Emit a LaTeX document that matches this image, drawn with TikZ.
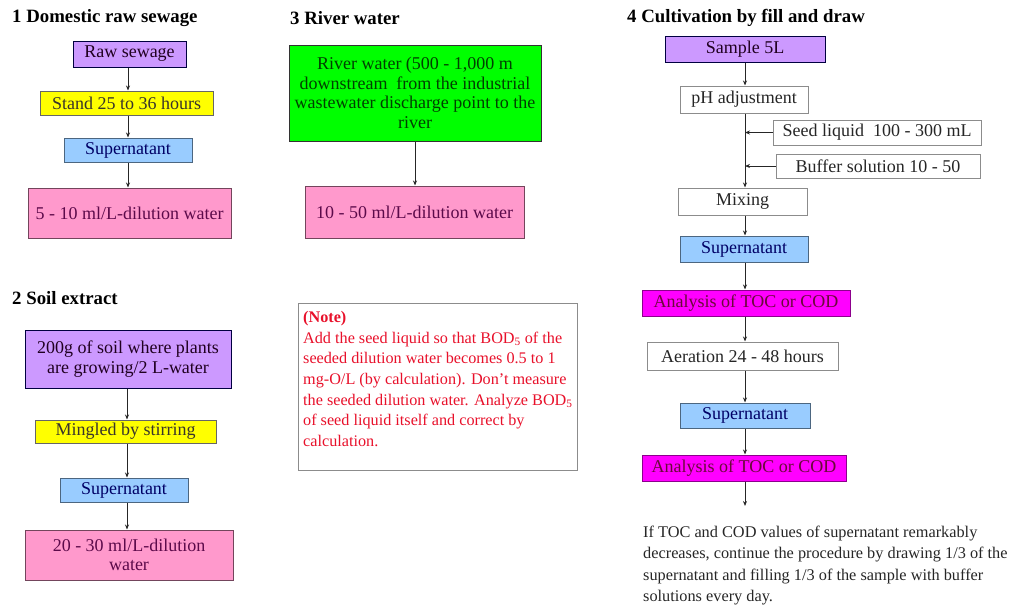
\documentclass[tikz,border=0pt]{standalone}
\usepackage{fontspec}
\setmainfont{Liberation Serif}
\usetikzlibrary{arrows.meta}
\definecolor{lav}{HTML}{CC99FF}
\definecolor{yel}{HTML}{FFFF00}
\definecolor{sky}{HTML}{99CCFF}
\definecolor{rose}{HTML}{FF99CC}
\definecolor{grn}{HTML}{00FF00}
\definecolor{mag}{HTML}{FF00FF}
\definecolor{notered}{HTML}{E8102A}
\definecolor{plum}{HTML}{5C0A4A}
\definecolor{maroon}{HTML}{6A0A3A}
\begin{document}
\begin{tikzpicture}[x=1pt,y=-1pt,
  base/.style={draw=#1, line width=1pt, inner sep=0pt, align=center,
    font=\fontsize{18}{19.5}\selectfont},
  purplebox/.style={base=black!75!blue, fill=lav, text=black!75!violet},
  yellowbox/.style={base=black!60, fill=yel, text=black!80!olive},
  bluebox/.style={base=black!50!sky, fill=sky, text=blue!40!black},
  pinkbox/.style={base=black!55!rose, fill=rose, text=plum},
  greenbox/.style={base=black!80, fill=grn, text=green!25!black},
  magbox/.style={base=black!45!mag, fill=mag, text=maroon},
  whitebox/.style={base=black!45, fill=white, text=black!85},
  title/.style={anchor=west, inner sep=0pt, font=\fontsize{18.8}{20}\selectfont\bfseries},
  arr/.style={-{Stealth[length=5pt,width=4pt]}, line width=0.9pt, black!85}]
\useasboundingbox (0,0) rectangle (1013,608);

% 1 Domestic raw sewage
\node[title] (t1) at (12,18) {1 Domestic raw sewage};
\node[purplebox, minimum width=113, minimum height=26] (raw1) at (129.5,54) {Raw sewage};
\node[yellowbox, minimum width=173, minimum height=24] (stand1) at (126.5,103) {Stand 25 to 36 hours};
\node[bluebox, minimum width=128, minimum height=24] (sup1) at (128,150) {Supernatant};
\node[pinkbox, minimum width=203, minimum height=50] (dil1) at (129.5,213) {5 - 10 ml/L-dilution water};
\coordinate (c1) at (128,0);
\draw[arr] (raw1.south -| c1) -- (stand1.north -| c1);
\draw[arr] (stand1.south -| c1) -- (sup1.north -| c1);
\draw[arr] (sup1.south -| c1) -- (dil1.north -| c1);

% 2 Soil extract
\node[title] (t2) at (12,298) {2 Soil extract};
\node[purplebox, minimum width=206, minimum height=58] (soil2) at (128,359) {200g of soil where plants\\are growing/2 L-water};
\node[yellowbox, minimum width=181, minimum height=23] (mingle2) at (125.5,431.5) {Mingled by stirring};
\node[bluebox, minimum width=128, minimum height=24] (sup2) at (124,490) {Supernatant};
\node[pinkbox, minimum width=208, minimum height=50] (dil2) at (129,555) {20 - 30 ml/L-dilution\\water};
\coordinate (c2) at (127,0);
\draw[arr] (soil2.south -| c2) -- (mingle2.north -| c2);
\draw[arr] (mingle2.south -| c2) -- (sup2.north -| c2);
\draw[arr] (sup2.south -| c2) -- (dil2.north -| c2);

% 3 River water
\node[title] (t3) at (290,18) {3 River water};
\node[greenbox, minimum width=252, minimum height=96] (river3) at (415,93)
  {River water (500 - 1,000 m\\downstream\ \ from the industrial\\wastewater discharge point to the\\river};
\node[pinkbox, minimum width=219, minimum height=52] (dil3) at (414.5,212) {10 - 50 ml/L-dilution water};
\coordinate (c3) at (415,0);
\draw[arr] (river3.south -| c3) -- (dil3.north -| c3);

% Note
\node[draw=black!45, line width=1pt, minimum width=279, minimum height=167] (note) at (437.5,386.5) {};
\node[anchor=north west, inner sep=0pt, text=notered, align=left,
  font=\fontsize{16.2}{20.7}\selectfont] (notetext) at (303,311)
  {\textbf{(Note)}\\
   Add the seed liquid so that BOD\textsubscript{5} of the\\
   seeded dilution water becomes 0.5 to 1\\
   mg-O/L (by calculation). Don't measure\\
   the seeded dilution water. Analyze BOD\textsubscript{5}\\
   of seed liquid itself and correct by\\
   calculation.};

% 4 Cultivation by fill and draw
\node[title] (t4) at (627,18) {4 Cultivation by fill and draw};
\node[purplebox, minimum width=160, minimum height=26] (s5) at (745,49) {Sample 5L};
\node[whitebox, minimum width=128, minimum height=27] (ph) at (744,99.5) {pH adjustment};
\node[whitebox, minimum width=208, minimum height=25] (seed) at (877,132.5) {Seed liquid\ \ 100 - 300 mL};
\node[whitebox, minimum width=204, minimum height=24] (buf) at (878,166) {Buffer solution 10 - 50};
\node[whitebox, minimum width=129, minimum height=27] (mix) at (742.5,201.5) {Mixing};
\node[bluebox, minimum width=128, minimum height=26] (sup4a) at (744,249) {Supernatant};
\node[magbox, minimum width=208, minimum height=26] (an1) at (746,303) {Analysis of TOC or COD};
\node[whitebox, minimum width=191, minimum height=28] (aer) at (742.5,356) {Aeration 24 - 48 hours};
\node[bluebox, minimum width=130, minimum height=25] (sup4b) at (745,415.5) {Supernatant};
\node[magbox, minimum width=204, minimum height=26] (an2) at (744,468) {Analysis of TOC or COD};
\coordinate (c4) at (745,0);
\coordinate (end4) at (745,506);
\draw[arr] (s5.south -| c4) -- (ph.north -| c4);
\draw[arr] (ph.south -| c4) -- (mix.north -| c4);
\draw[arr] (seed.west) -- (seed.west -| c4);
\draw[arr] (buf.west) -- (buf.west -| c4);
\draw[arr] (mix.south -| c4) -- (sup4a.north -| c4);
\draw[arr] (sup4a.south -| c4) -- (an1.north -| c4);
\draw[arr] (an1.south -| c4) -- (aer.north -| c4);
\draw[arr] (aer.south -| c4) -- (sup4b.north -| c4);
\draw[arr] (sup4b.south -| c4) -- (an2.north -| c4);
\draw[arr] (an2.south -| c4) -- (end4);

\node[anchor=north west, inner sep=0pt, align=left, text=black!85,
  font=\fontsize{16.3}{21.2}\selectfont] (para) at (643,526)
  {If TOC and COD values of supernatant remarkably\\
   decreases, continue the procedure by drawing 1/3 of the\\
   supernatant and filling 1/3 of the sample with buffer\\
   solutions every day.};
\end{tikzpicture}
\end{document}
